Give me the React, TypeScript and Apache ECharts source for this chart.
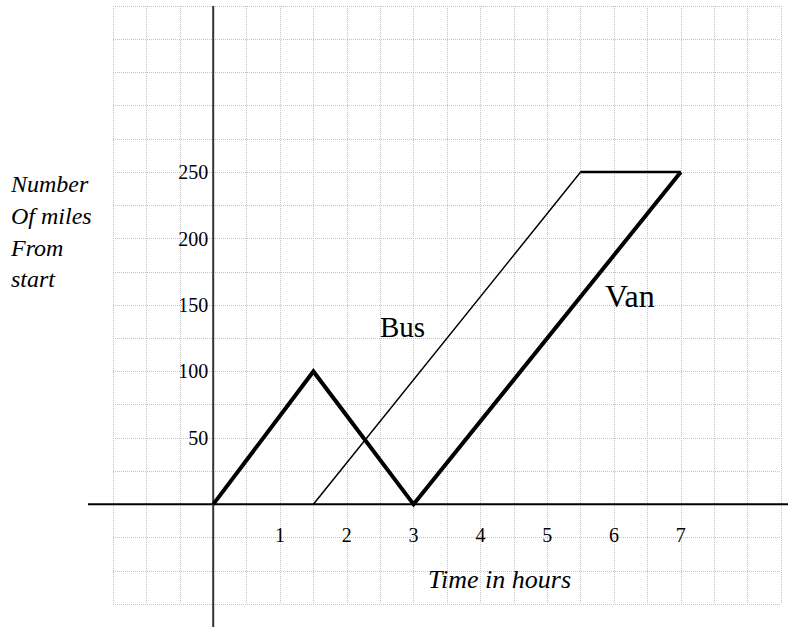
import React, { useEffect, useRef } from 'react';
import * as echarts from 'echarts';

// Data (time in hours, miles from start)
const vanTimes = [0, 1.5, 3, 7];
const vanMiles = [0, 100, 0, 250];
const busTimes = [1.5, 5.5, 7];
const busMiles = [0, 250, 250];
const xTickLabels = [1, 2, 3, 4, 5, 6, 7];
const yTickLabels = [50, 100, 150, 200, 250];
const xRange = [-1.5, 8.5];
const yRange = [-75, 375];
const yTitleLines = ['Number', 'Of miles', 'From', 'start'];
const xTitle = 'Time in hours';
const seriesNames = ['Van', 'Bus'];

export default function App() {
  const ref = useRef<HTMLDivElement>(null);
  useEffect(() => {
    const chart = echarts.init(ref.current!, null, { renderer: 'svg' });
    const serif = 'Liberation Serif';
    const grid = { left: 113, top: 6, width: 668, height: 598, outerBoundsMode: 'none', containLabel: false };
    const vanData = vanTimes.map((t, i) => [t, vanMiles[i]]);
    const busData = busTimes.map((t, i) => [t, busMiles[i]]);
    const busStop = busData.slice(1);
    chart.setOption({
      animation: false,
      grid,
      xAxis: {
        type: 'value',
        min: xRange[0],
        max: xRange[1],
        interval: 0.5,
        axisLine: { show: false, onZero: false },
        axisTick: { show: false },
        splitLine: { show: true, lineStyle: { type: 'dotted', color: '#c4c4c4', width: 1 } },
        axisLabel: {
          formatter: (v: number) => (xTickLabels.includes(v) ? String(v) : ''),
          fontFamily: serif,
          fontSize: 20,
          color: '#000',
          margin: 21,
        },
      },
      yAxis: {
        type: 'value',
        min: yRange[0],
        max: yRange[1],
        interval: 25,
        axisLine: { show: false, onZero: false },
        axisTick: { show: false },
        splitLine: { show: true, lineStyle: { type: 'dotted', color: '#c4c4c4', width: 1 } },
        axisLabel: {
          formatter: (v: number) => (yTickLabels.includes(v) ? String(v) : ''),
          fontFamily: serif,
          fontSize: 20,
          color: '#000',
          margin: 5,
        },
      },
      series: [
        {
          name: seriesNames[0],
          type: 'line',
          data: vanData,
          showSymbol: false,
          lineStyle: { color: '#000', width: 4, join: 'miter' },
          z: 5,
        },
        {
          name: seriesNames[1],
          type: 'line',
          data: busData,
          showSymbol: false,
          lineStyle: { color: '#000', width: 1.5, join: 'miter' },
          z: 4,
        },
        {
          name: seriesNames[1] + ' stop',
          type: 'line',
          data: busStop,
          showSymbol: false,
          lineStyle: { color: '#000', width: 2.5 },
          z: 4,
        },
      ],
    });
    const o1 = chart.convertToPixel({ gridIndex: 0 }, [0, 0]) as number[];
    chart.setOption({
      xAxis: { offset: -(grid.top + grid.height - o1[1]) },
      yAxis: { offset: -(o1[0] - grid.left) },
    });
    const o = chart.convertToPixel({ gridIndex: 0 }, [0, 0]) as number[];
    const textStyle = (text: string, size: number, italic: boolean) => ({
      text,
      fontFamily: serif,
      fontSize: size,
      fontStyle: italic ? 'italic' : 'normal',
      fill: '#000',
      verticalAlign: 'middle',
      align: 'left',
    });
    const graphics: any[] = [
      { type: 'line', shape: { x1: 88, y1: o[1], x2: 788, y2: o[1] }, style: { stroke: '#000', lineWidth: 2 }, z: 1 },
      { type: 'line', shape: { x1: o[0], y1: 6, x2: o[0], y2: 627 }, style: { stroke: '#333', lineWidth: 2 }, z: 1 },
      { type: 'text', x: 428, y: 579.5, style: textStyle(xTitle, 26, true) },
      { type: 'text', x: 380, y: 327, style: textStyle(seriesNames[1], 29, false) },
      { type: 'text', x: 605, y: 296, style: textStyle(seriesNames[0], 32, false) },
    ];
    const baselines = [192.3, 224.3, 255.7, 286.7];
    yTitleLines.forEach((line, i) => {
      graphics.push({ type: 'text', x: 11, y: baselines[i] - 8.1, style: textStyle(line, 24, true) });
    });
    chart.setOption({ graphic: graphics });
    return () => chart.dispose();
  }, []);
  return <div ref={ref} style={{ position: 'absolute', left: 0, top: 0, width: 788, height: 627 }} />;
}
